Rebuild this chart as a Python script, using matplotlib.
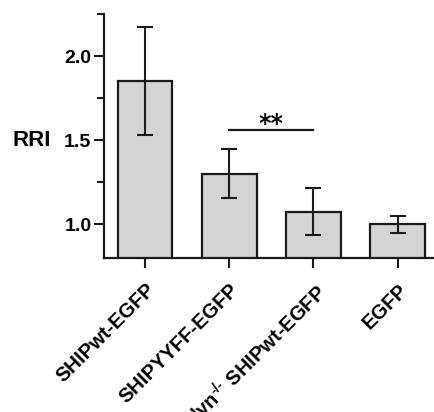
import matplotlib
matplotlib.use("Agg")
import matplotlib.pyplot as plt
from matplotlib.ticker import MultipleLocator

categories = ["SHIPwt-EGFP", "SHIPYYFF-EGFP", r"lyn$^{\text{-/-}}$ SHIPwt-EGFP", "EGFP"]
values = [1.85, 1.30, 1.075, 1.0]
errors = [0.32, 0.145, 0.14, 0.05]
sig_pair = (1, 2)
sig_y = 1.562
sig_label = "**"

plt.rcParams['font.family'] = ['Liberation Sans', 'DejaVu Sans']
plt.rcParams['mathtext.fontset'] = 'custom'
plt.rcParams['mathtext.rm'] = 'Liberation Sans:bold'
plt.rcParams['mathtext.it'] = 'Liberation Sans:bold'
plt.rcParams['mathtext.bf'] = 'Liberation Sans:bold'

fig = plt.figure(figsize=(4.34, 4.12), dpi=100)
ax = fig.add_axes([0.2396, 0.3738, 0.7604, 0.5922])

x = list(range(len(categories)))
ax.bar(x, values, width=0.65, color='#d4d4d4', edgecolor='#1a1a1a', linewidth=1.6, zorder=2)
ax.errorbar(x, values, yerr=errors, fmt='none', ecolor='#1a1a1a', elinewidth=1.5,
            capsize=5.5, capthick=1.5, zorder=3)

ax.plot([sig_pair[0], sig_pair[1]], [sig_y, sig_y], color='#1a1a1a', lw=1.6)
ax.text((sig_pair[0] + sig_pair[1]) / 2, sig_y + 0.032, sig_label, ha='center', va='center',
        fontsize=17, fontweight='bold', family='DejaVu Sans')

ymin, ymax = 0.8, 2.25
ax.set_ylim(ymin, ymax)
ax.set_xlim(-0.486, 3.43)
ax.yaxis.set_minor_locator(MultipleLocator(0.25))
ax.set_yticks([1.0, 1.5, 2.0])
ax.set_yticklabels(["1.0", "1.5", "2.0"], fontsize=14, fontweight='bold')

ax.set_xticks(x)
ax.set_xticklabels(categories, rotation=45, ha='right', va='top', rotation_mode='anchor',
                   fontsize=14.5, fontweight='bold')

for s in ['top', 'right']:
    ax.spines[s].set_visible(False)
for s in ['left', 'bottom']:
    ax.spines[s].set_linewidth(1.6)
    ax.spines[s].set_color('#1a1a1a')

ax.tick_params(axis='y', which='major', length=7, width=1.5, color='#1a1a1a', pad=2)
ax.tick_params(axis='y', which='minor', length=5, width=1.5, color='#1a1a1a')
ax.tick_params(axis='x', which='major', length=7, width=1.5, color='#1a1a1a', pad=9)

ax.set_ylabel("RRI", rotation=0, fontsize=16, fontweight='bold', ha='center', va='center')
ax.yaxis.set_label_coords(-0.218, (1.5 - ymin) / (ymax - ymin))

fig.savefig("out.png", dpi=100)
